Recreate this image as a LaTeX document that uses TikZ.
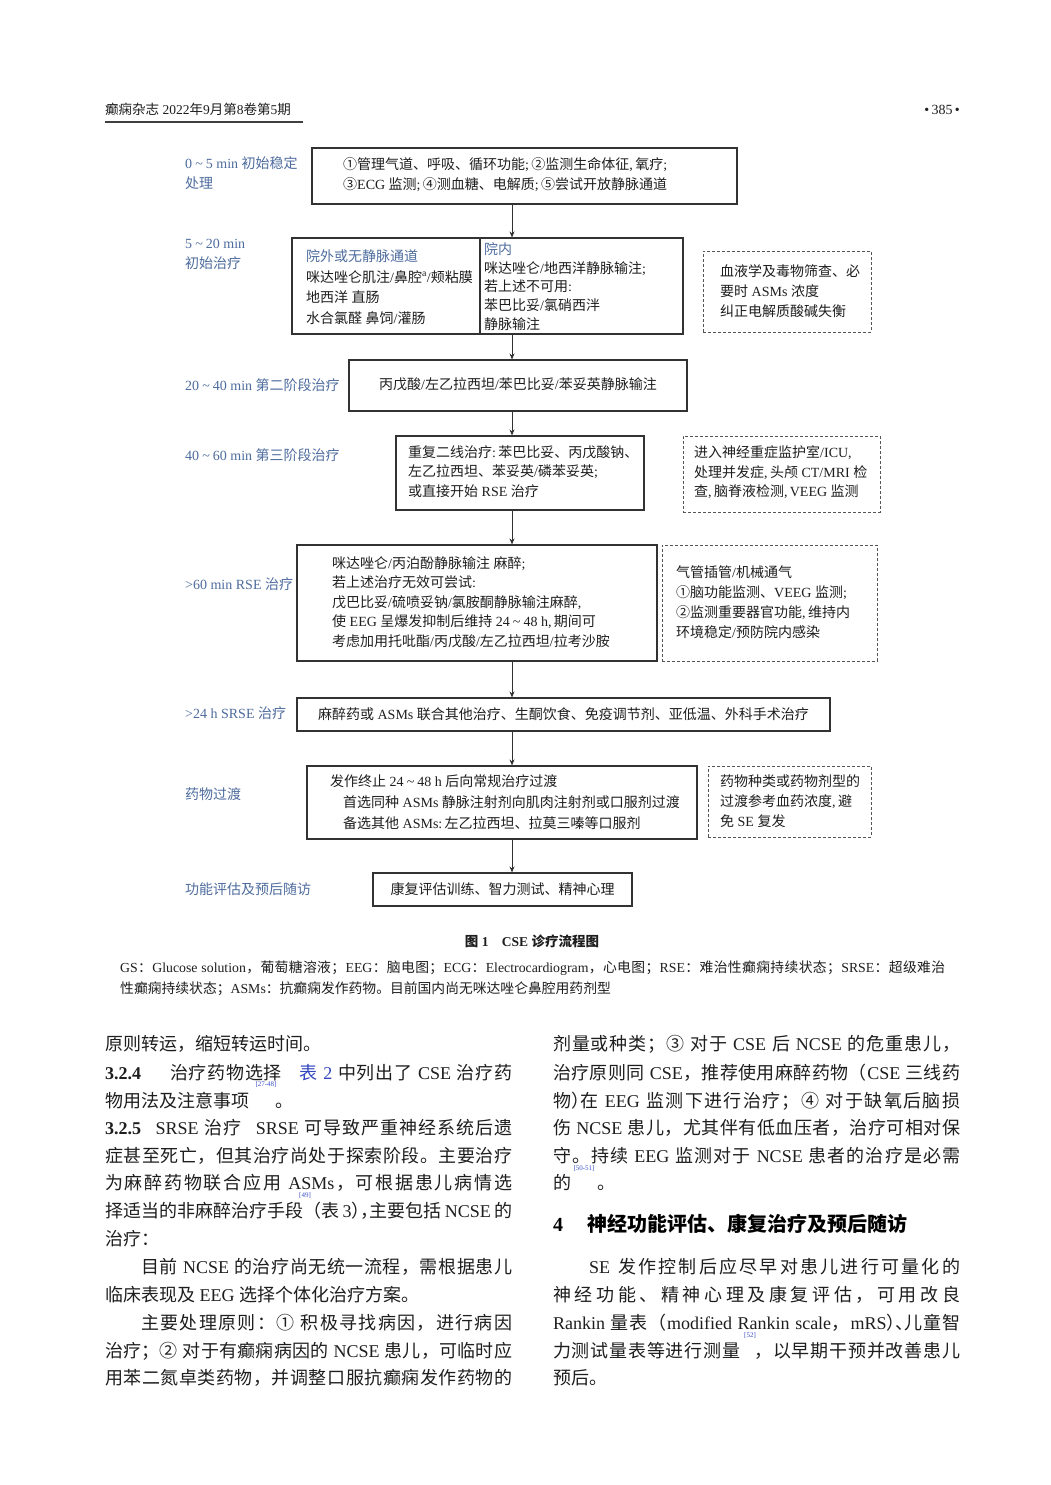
\documentclass[tikz,border=0pt]{standalone}
\usepackage{fontspec}
\usetikzlibrary{arrows.meta}
\setmainfont{Liberation Serif}
\newfontfamily\latf{Liberation Serif}
\newfontfamily\cjkf{Noto Sans CJK SC}
\newXeTeXintercharclass\cjkc
\newcount\cjkn
\newcommand\setcjkrange[2]{\cjkn=#1\relax\loop\XeTeXcharclass\cjkn=\cjkc\advance\cjkn by 1\relax\ifnum\cjkn<#2\repeat}
\setcjkrange{"2460}{"2500}
\setcjkrange{"3000}{"3040}
\setcjkrange{"4E00}{"A000}
\setcjkrange{"FF00}{"FFF0}
\XeTeXinterchartoks 0 \cjkc={\cjkf\hskip0pt plus 1.5pt\relax}
\XeTeXinterchartoks 4095 \cjkc={\cjkf}
\XeTeXinterchartoks \cjkc 0={\latf\hskip0pt plus 1.5pt\relax}
\XeTeXinterchartoks \cjkc 4095={\latf}
\XeTeXinterchartoks \cjkc \cjkc={\hskip0pt plus 1.5pt\relax}
\XeTeXinterchartokenstate=1
\hbadness=10000
\hfuzz=20pt
\definecolor{labblue}{RGB}{78,108,158}
\definecolor{citeblue}{RGB}{60,80,200}
\definecolor{linkblue}{RGB}{50,70,190}
\definecolor{boxgray}{RGB}{50,50,50}
\definecolor{dashgray}{RGB}{85,85,85}
\definecolor{txt}{RGB}{30,30,30}
\newcommand\fsf[1]{\fontsize{14}{#1}\selectfont}
\newcommand\fsbody{\fontsize{18}{27}\selectfont}
\newcommand\jbox[1]{\hbox to 407pt{#1}}
\newcommand\hl[1]{\makebox[0.5em][r]{#1}}
\newcommand\hr[1]{\makebox[0.5em][l]{#1}}
\newcommand\tld{\hspace{0.22em}\textasciitilde\hspace{0.22em}}
\tikzset{
  box/.style={draw=boxgray, line width=1.1pt, inner sep=0pt},
  dbox/.style={draw=dashgray, line width=1pt, dash pattern=on 3pt off 2pt, inner sep=0pt},
  ftext/.style={font=\fsf{20}, text=txt, align=left, inner sep=0pt, anchor=west},
  ctext/.style={font=\fsf{20}, text=txt, inner sep=0pt},
  lab/.style={font=\fsf{20}, text=labblue, align=left, inner sep=0pt, anchor=west},
  arr/.style={draw=boxgray, line width=0.9pt, -{Stealth[length=6pt,width=5pt]}},
  jl/.style={font=\fsbody, text=txt, inner sep=0pt, anchor=base west},
  pl/.style={font=\fsbody, text=txt, inner sep=0pt, anchor=base west},
  cite/.style={font=\fontsize{7}{8}\selectfont, text=citeblue, inner sep=0pt},
}
\begin{document}
\begin{tikzpicture}[x=1pt,y=-1pt]
\fill[white] (0,0) rectangle (1050,1485);
\useasboundingbox (0,0) rectangle (1050,1485);

% header
\node[anchor=base west, font=\fontsize{13.5}{16}\selectfont, text=txt, inner sep=0pt] (hdr) at (105,115) {癫痫杂志 2022年9月第8卷第5期};
\draw[line width=1.3pt, draw=black!75] (105,122) -- (303,122);
\node[anchor=base east, font=\fontsize{14}{16}\selectfont, text=txt, inner sep=0pt] (pg) at (960,115) {\textbullet\,385\,\textbullet};

\coordinate (sp) at (512,0);
\coordinate (divx) at (480,0);

% boxes
\node[box, minimum width=425pt, minimum height=56pt] (b1) at (524.5,176) {};
\node[box, minimum width=391pt, minimum height=96pt] (b2) at (487.5,286) {};
\node[dbox, minimum width=168pt, minimum height=81pt] (d1) at (787,291.5) {};
\node[box, minimum width=338pt, minimum height=51pt] (b3) at (518,385.5) {};
\node[box, minimum width=248pt, minimum height=74pt] (b4) at (520,473) {};
\node[dbox, minimum width=197pt, minimum height=76pt] (d2) at (781.5,474) {};
\node[box, minimum width=360pt, minimum height=116pt] (b5) at (477,603) {};
\node[dbox, minimum width=215pt, minimum height=116pt] (d3) at (769.5,603) {};
\node[box, minimum width=533pt, minimum height=33pt] (b6) at (563.5,714.5) {};
\node[box, minimum width=390pt, minimum height=73pt] (b7) at (502,802.5) {};
\node[dbox, minimum width=163pt, minimum height=71pt] (d4) at (789.5,801.5) {};
\node[box, minimum width=259pt, minimum height=33pt] (b8) at (502.5,889.5) {};
\draw[draw=boxgray, line width=1.1pt] (b2.north -| divx) -- (b2.south -| divx);

% box texts
\node[ftext] (t1) at (343,175) {①管理气道、呼吸、循环功能;\,②监测生命体征,\,氧疗;\\③ECG 监测;\,④测血糖、电解质;\,⑤尝试开放静脉通道};
\node[ftext, font=\fsf{20.7}] (t2a) at (306,287) {{\color{labblue}院外或无静脉通道}\\咪达唑仑肌注/鼻腔\textsuperscript{a}/颊粘膜\\地西洋 直肠\\水合氯醛 鼻饲/灌肠};
\node[ftext, font=\fsf{18.75}] (t2b) at (484,286.5) {{\color{labblue}院内}\\咪达唑仑/地西洋静脉输注;\\若上述不可用:\\苯巴比妥/氯硝西泮\\静脉输注};
\node[ftext] (td1) at (720,291) {血液学及毒物筛查、必\\要时 ASMs 浓度\\纠正电解质酸碱失衡};
\node[ctext] (t3) at (518,384) {丙戊酸/左乙拉西坦/苯巴比妥/苯妥英静脉输注};
\node[ftext, font=\fsf{19.5}] (t4) at (408,471.5) {重复二线治疗:\,苯巴比妥、丙戊酸钠、\\左乙拉西坦、苯妥英/磷苯妥英;\\或直接开始 RSE 治疗};
\node[ftext, font=\fsf{19.5}] (td2) at (694,472.5) {进入神经重症监护室/ICU,\\处理并发症,\,头颅 CT/MRI 检\\查,\,脑脊液检测,\,VEEG 监测};
\node[ftext, font=\fsf{19.5}] (t5) at (332,602) {咪达唑仑/丙泊酚静脉输注 麻醉;\\若上述治疗无效可尝试:\\戊巴比妥/硫喷妥钠/氯胺酮静脉输注麻醉,\\使 EEG 呈爆发抑制后维持 24\tld48 h,\,期间可\\考虑加用托吡酯/丙戊酸/左乙拉西坦/拉考沙胺};
\node[ftext] (td3) at (676,602) {气管插管/机械通气\\①脑功能监测、VEEG 监测;\\②监测重要器官功能,\,维持内\\环境稳定/预防院内感染};
\node[ctext] (t6) at (563.5,714) {麻醉药或 ASMs 联合其他治疗、生酮饮食、免疫调节剂、亚低温、外科手术治疗};
\node[ftext, font=\fsf{21}] (t7) at (330,802) {发作终止 24\tld48 h 后向常规治疗过渡\\\hspace*{13pt}首选同种 ASMs 静脉注射剂向肌肉注射剂或口服剂过渡\\\hspace*{13pt}备选其他 ASMs:\,左乙拉西坦、拉莫三嗪等口服剂};
\node[ftext] (td4) at (720,801) {药物种类或药物剂型的\\过渡参考血药浓度,\,避\\免 SE 复发};
\node[ctext] (t8) at (502.5,889) {康复评估训练、智力测试、精神心理};

% stage labels
\node[lab] (l1) at (185,173) {0\tld5 min 初始稳定\\处理};
\node[lab] (l2) at (185,254.5) {5\tld20 min\\初始治疗};
\node[lab] (l3) at (185,385) {20\tld40 min 第二阶段治疗};
\node[lab] (l4) at (185,455) {40\tld60 min 第三阶段治疗};
\node[lab] (l5) at (185,584) {\textgreater60 min RSE 治疗};
\node[lab] (l6) at (185,713) {\textgreater24 h SRSE 治疗};
\node[lab] (l7) at (185,794) {药物过渡};
\node[lab] (l8) at (185,889) {功能评估及预后随访};

% arrows
\draw[arr] (b1.south -| sp) -- (b2.north -| sp);
\draw[arr] (b2.south -| sp) -- (b3.north -| sp);
\draw[arr] (b3.south -| sp) -- (b4.north -| sp);
\draw[arr] (b4.south -| sp) -- (b5.north -| sp);
\draw[arr] (b5.south -| sp) -- (b6.north -| sp);
\draw[arr] (b6.south -| sp) -- (b7.north -| sp);
\draw[arr] (b7.south -| sp) -- (b8.north -| sp);

% caption
\node[anchor=base, font=\bfseries\fontsize{13.5}{16}\selectfont, text=txt, inner sep=0pt] (cap) at (532,946) {图 1\hspace{1em}CSE 诊疗流程图};
\node[anchor=base west, font=\fontsize{13.8}{20}\selectfont, text=txt, inner sep=0pt] (n1) at (120,972) {\hbox to 825pt{GS：Glucose solution，葡萄糖溶液；EEG：脑电图；ECG：Electrocardiogram，心电图；RSE：难治性癫痫持续状态；SRSE：超级难治}};
\node[anchor=base west, font=\fontsize{13.8}{20}\selectfont, text=txt, inner sep=0pt] (n2) at (120,993) {性癫痫持续状态；ASMs：抗癫痫发作药物。目前国内尚无咪达唑仑鼻腔用药剂型};

% left column
\node[pl] (L0) at (105,1050) {原则转运，缩短转运时间。};
\node[jl] (L1) at (105,1079) {\jbox{{\bfseries 3.2.4}\hspace{1.6em}治疗药物选择\hspace{1em}{\color{linkblue}表 2} 中列出了 CSE 治疗药}};
\node[pl] (L2) at (105,1107) {物用法及注意事项\hspace{26pt}。};
\node[jl] (L3) at (105,1134) {\jbox{{\bfseries 3.2.5}\hspace{0.8em}SRSE 治疗\hspace{0.8em}SRSE 可导致严重神经系统后遗}};
\node[jl] (L4) at (105,1162) {\jbox{症甚至死亡，但其治疗尚处于探索阶段。主要治疗}};
\node[jl] (L5) at (105,1189) {\jbox{为麻醉药物联合应用 ASMs，可根据患儿病情选}};
\node[jl] (L6) at (105,1217) {\jbox{择适当的非麻醉治疗手段（表 3\hr{）}\hr{，}主要包括 NCSE 的}};
\node[pl] (L7) at (105,1245) {治疗：};
\node[jl] (L8) at (105,1273) {\jbox{\hspace*{2em}目前 NCSE 的治疗尚无统一流程，需根据患儿}};
\node[pl] (L9) at (105,1301) {临床表现及 EEG 选择个体化治疗方案。};
\node[jl] (L10) at (105,1329) {\jbox{\hspace*{2em}主要处理原则：① 积极寻找病因，进行病因}};
\node[jl] (L11) at (105,1357) {\jbox{治疗；② 对于有癫痫病因的 NCSE 患儿，可临时应}};
\node[jl] (L12) at (105,1384) {\jbox{用苯二氮卓类药物，并调整口服抗癫痫发作药物的}};

% right column
\node[jl] (R0) at (553,1050) {\jbox{剂量或种类；③ 对于 CSE 后 NCSE 的危重患儿，}};
\node[jl] (R1) at (553,1079) {\jbox{治疗原则同 CSE，推荐使用麻醉药物（CSE 三线药}};
\node[jl] (R2) at (553,1107) {\jbox{物\hr{）}在 EEG 监测下进行治疗；④ 对于缺氧后脑损}};
\node[jl] (R3) at (553,1134) {\jbox{伤 NCSE 患儿，尤其伴有低血压者，治疗可相对保}};
\node[jl] (R4) at (553,1162) {\jbox{守。持续 EEG 监测对于 NCSE 患者的治疗是必需}};
\node[pl] (R5) at (553,1189) {的\hspace{26pt}。};
\node[anchor=base west, font=\bfseries\fontsize{20}{24}\selectfont, text=black, inner sep=0pt] (H4) at (553,1231) {4\hspace{1.2em}神经功能评估、康复治疗及预后随访};
\node[jl] (R7) at (553,1273) {\jbox{\hspace*{2em}SE 发作控制后应尽早对患儿进行可量化的}};
\node[jl] (R8) at (553,1301) {\jbox{神经功能、精神心理及康复评估，可用改良}};
\node[jl] (R9) at (553,1329) {\jbox{Rankin 量表（modified Rankin scale，mRS\hr{）}\hr{、}儿童智}};
\node[jl] (R10) at (553,1357) {\jbox{力测试量表等进行测量\hspace{14pt}，以早期干预并改善患儿}};
\node[pl] (R11) at (553,1384) {预后。};

% citations
\node[cite] (c1) at (266,1085) {[27-48]};
\node[cite] (c2) at (305,1196) {[49]};
\node[cite] (c3) at (584,1169) {[50-51]};
\node[cite] (c4) at (750,1336) {[52]};
\end{tikzpicture}
\end{document}
